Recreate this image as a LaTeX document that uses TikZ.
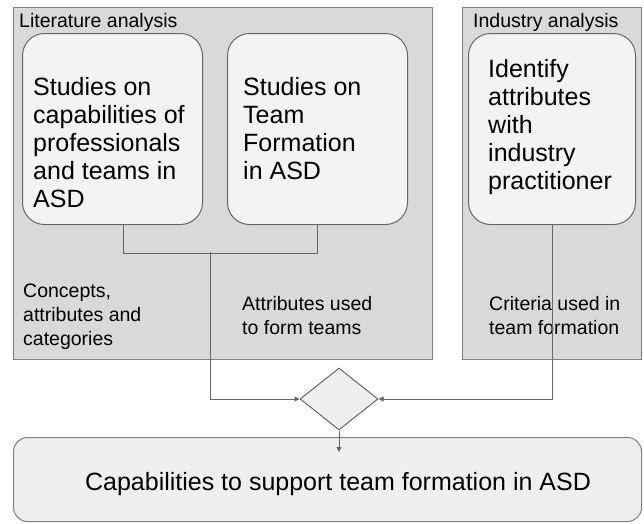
\documentclass[tikz,border=0pt]{standalone}
\usepackage{fontspec}
\setmainfont{Liberation Sans}
\usetikzlibrary{shapes.geometric,arrows.meta}
\definecolor{panelfill}{HTML}{D9D9D9}
\definecolor{panelline}{HTML}{808080}
\definecolor{boxfill}{HTML}{F3F3F3}
\definecolor{boxline}{HTML}{666666}
\definecolor{lightfill}{HTML}{EFEFEF}
\definecolor{conncol}{HTML}{666666}
\tikzset{
  panel/.style={draw=panelline, fill=panelfill, line width=1pt, inner sep=0pt, anchor=north west},
  studybox/.style={draw=boxline, fill=boxfill, line width=1pt, rounded corners=22pt, inner sep=0pt, anchor=north west},
  boxtext/.style={align=left, anchor=north west, inner sep=0pt, font=\fontsize{25}{28}\selectfont},
  labeltext/.style={align=left, anchor=north west, inner sep=0pt, font=\fontsize{19.5}{24}\selectfont},
  conn/.style={draw=conncol, line width=0.9pt},
  arr/.style={conn, -{Triangle[length=5pt,width=5pt]}},
}
\begin{document}
\begin{tikzpicture}[x=1pt,y=-1pt]
\useasboundingbox (0,0) rectangle (644,523);
% panels
\node[panel, minimum width=419pt, minimum height=352pt] (lit) at (13,7) {};
\node[panel, minimum width=179pt, minimum height=352pt] (ind) at (462,7) {};
\node[labeltext] (littitle) at (19,13) {Literature analysis};
\node[labeltext] (indtitle) at (473,13) {Industry analysis};
% study boxes
\node[studybox, minimum width=180pt, minimum height=191pt] (b1) at (22,33) {};
\node[studybox, minimum width=180pt, minimum height=191pt] (b2) at (227,33) {};
\node[studybox, minimum width=167pt, minimum height=191pt] (b3) at (468,33) {};
\node[boxtext] (t1) at (33,77) {Studies on\\capabilities of\\professionals\\and teams in\\ASD};
\node[boxtext] (t2) at (243,77) {Studies on\\Team\\Formation\\in ASD};
\node[boxtext] (t3) at (488,59.5) {Identify\\attributes\\with\\industry\\practitioner};
% labels
\node[labeltext] (l1) at (23,284) {Concepts,\\attributes and\\categories};
\node[labeltext] (l2) at (242,296) {Attributes used\\to form teams};
\node[labeltext] (l3) at (489,296) {Criteria used in\\team formation};
% diamond
\node[diamond, draw=boxline, fill=lightfill, line width=1pt, inner sep=0pt,
      minimum width=78pt, minimum height=62pt, aspect=1.26] (dia) at (339,399) {};
% bottom box
\node[draw=panelline, fill=lightfill, line width=1pt, rounded corners=14pt, inner sep=0pt,
      minimum width=628pt, minimum height=84pt, anchor=north west] (res) at (13,437) {};
\node[anchor=base, inner sep=0pt, font=\fontsize{25}{28}\selectfont] (restext) at (338,490)
  {Capabilities to support team formation in ASD};
% connectors
\coordinate (join) at (210,252);
\coordinate (tip) at (339,452);
\draw[conn] ([xshift=11pt]b1.south) -- ++(0,28) -| (b2.south);
\draw[arr] (join) |- (dia.west);
\draw[arr] (b3.south) |- (dia.east);
\draw[arr] (dia.south) -- (tip);
\end{tikzpicture}
\end{document}
